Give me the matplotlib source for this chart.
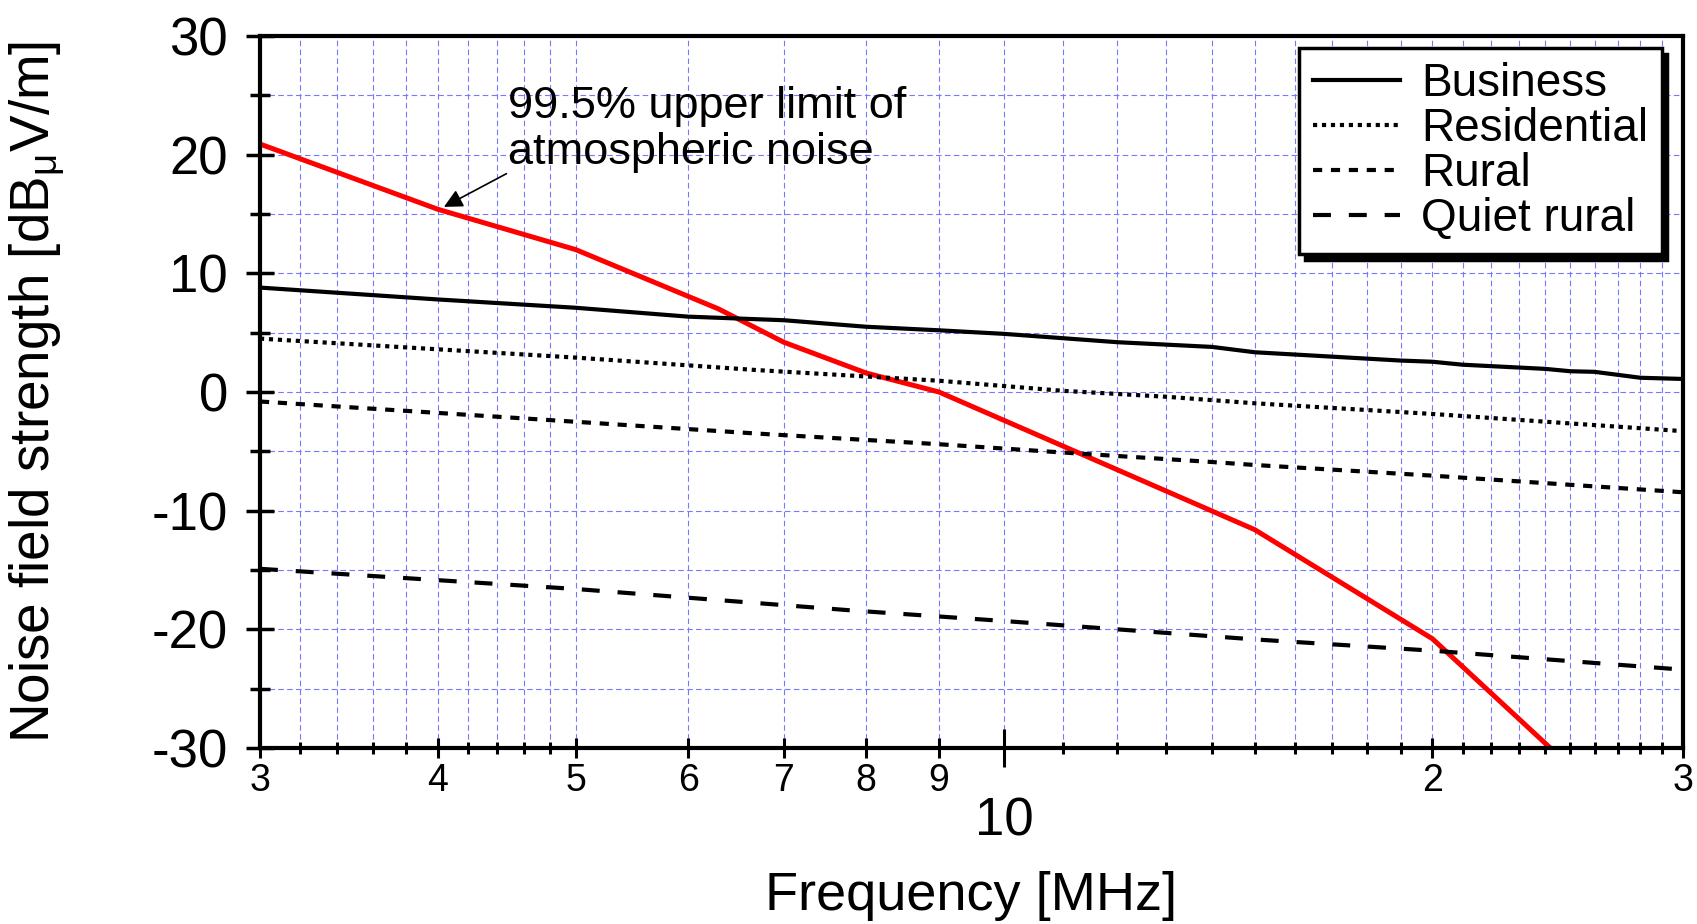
import matplotlib
matplotlib.use("Agg")
import matplotlib.pyplot as plt
from matplotlib.ticker import FixedLocator, FixedFormatter, NullFormatter, MultipleLocator

plt.rcParams['font.family'] = ['Liberation Sans', 'DejaVu Sans']
plt.rcParams['axes.unicode_minus'] = False
plt.rcParams['mathtext.fontset'] = 'custom'
plt.rcParams['mathtext.rm'] = 'Liberation Sans'
plt.rcParams['mathtext.it'] = 'Liberation Sans:italic'

# data (frequency in MHz, field strength in dBuV/m)
freq_atm = [3, 4, 5, 6.3, 7, 8, 9, 15, 20, 24.2]
atm = [20.9, 15.4, 12.0, 7.0, 4.2, 1.6, 0.0, -11.6, -20.8, -30.0]

freq_bus = [3, 4, 5, 6, 7, 8, 9, 10, 12, 14, 15, 19, 20, 21, 24, 25, 26, 28, 30]
business = [8.8, 7.8, 7.1, 6.35, 6.05, 5.5, 5.2, 4.9, 4.2, 3.8, 3.35, 2.65, 2.55, 2.3, 1.95, 1.75, 1.7, 1.2, 1.1]

freq_res = [3, 5, 6.7, 9, 11, 13, 15, 20, 30]
residential = [4.5, 2.9, 1.85, 0.95, 0.1, -0.4, -0.95, -1.85, -3.3]

freq_rur = [3, 4.7, 6.7, 9, 11, 14, 15, 20, 30]
rural = [-0.8, -2.3, -3.5, -4.4, -5.1, -5.9, -6.15, -7.05, -8.45]

freq_qr = [3, 5, 7.8, 10, 15, 20, 30]
quiet_rural = [-14.9, -16.6, -18.4, -19.3, -20.85, -21.8, -23.4]

x_major = [3, 4, 5, 6, 7, 8, 9, 10, 20, 30]
x_major_labels = ['3', '4', '5', '6', '7', '8', '9', '10', '2', '3']
x_minor = [3.2, 3.4, 3.6, 3.8, 4.2, 4.4, 4.6, 4.8] + list(range(11, 20)) + list(range(21, 30))


fig = plt.figure(figsize=(16.97, 9.24), dpi=100)
ax = fig.add_axes([0.1532, 0.1905, 0.8386, 0.7705])

ax.plot(freq_atm, atm, color='#ff0000', lw=3.6, solid_joinstyle='miter', zorder=2)
ax.plot(freq_bus, business, color='k', lw=3, ls='-', label='Business', zorder=3)
ax.plot(freq_res, residential, color='k', lw=3, ls=(0, (1, 1.15)), label='Residential', zorder=3)
ax.plot(freq_rur, rural, color='k', lw=3, ls=(0, (2.2, 2.1)), label='Rural', zorder=3)
ax.plot(freq_qr, quiet_rural, color='k', lw=3, ls=(0, (4.3, 4.3)), label='Quiet rural', zorder=3)

ax.set_xscale('log')
ax.set_xlim(3, 30)
ax.set_ylim(-30, 30)

ax.xaxis.set_major_locator(FixedLocator(x_major))
ax.xaxis.set_major_formatter(FixedFormatter(x_major_labels))
ax.xaxis.set_minor_locator(FixedLocator(x_minor))
ax.xaxis.set_minor_formatter(NullFormatter())
ax.yaxis.set_major_locator(MultipleLocator(10))
ax.yaxis.set_minor_locator(MultipleLocator(5))

ax.grid(True, which='both', color='#7878ff', ls=(0, (5, 3)), lw=0.8)

for s in ax.spines.values():
    s.set_linewidth(3)

ax.tick_params(axis='y', which='major', direction='inout', length=20, width=2.5, labelsize=38, pad=13)
ax.tick_params(axis='y', which='minor', direction='inout', length=14, width=2.5)
ax.tick_params(axis='x', which='major', direction='inout', length=14, width=2.2, labelsize=27, pad=4)
ax.tick_params(axis='x', which='minor', direction='inout', length=8.5, width=2.2)
ax.tick_params(which='both', top=False, right=False)

# the decade tick at 10 is longer and its label larger and lower
t10 = ax.xaxis.get_major_ticks()[x_major.index(10)]
t10.set_pad(28)
t10.tick1line.set_markersize(27)
t10.label1.set_fontsize(38)

ax.set_xlabel('Frequency [MHz]', fontsize=39, va='center')
ax.xaxis.set_label_coords(0.5, -0.208)
ax.set_ylabel(r'Noise field strength [dB$_{\mathregular{\mu}}$V/m]', fontsize=39.5, va='center')
ax.yaxis.set_label_coords(-0.156, 0.5)

ax.annotate('', xy=(4.04, 15.6), xytext=(4.47, 18.4),
            arrowprops=dict(arrowstyle='-|>', color='k', lw=1.2, mutation_scale=28,
                            shrinkA=0, shrinkB=0))
ax.text(4.48, 22.1, '99.5% upper limit of\natmospheric noise', fontsize=32.5,
        ha='left', va='center', linespacing=1.15)

leg = ax.legend(loc='upper right', bbox_to_anchor=(0.985, 0.983), borderaxespad=0,
                fontsize=33, handlelength=1.9, handletextpad=0.45, labelspacing=0.02,
                borderpad=0.3, fancybox=False, edgecolor='k', framealpha=1,
                shadow={'ox': 4, 'oy': -4, 'color': 'k', 'alpha': 1})
leg.get_frame().set_linewidth(2.5)

fig.savefig('out.png', dpi=100)
